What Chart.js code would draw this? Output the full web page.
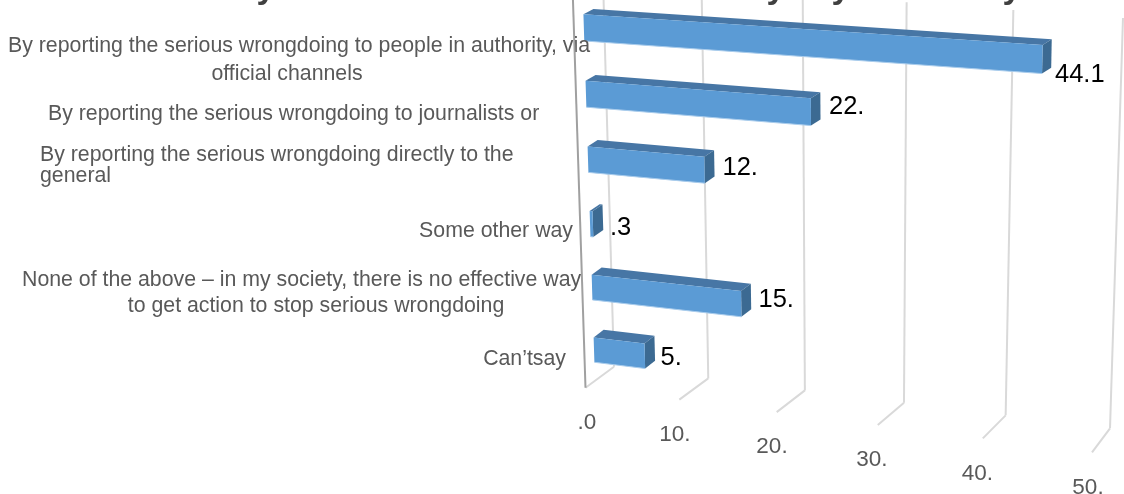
<!DOCTYPE html>
<html>
<head>
<meta charset="utf-8">
<title>Effective ways to stop serious wrongdoing</title>
<script src="https://cdn.jsdelivr.net/npm/chart.js@4/dist/chart.umd.js"></script>
<style>
  html, body { margin: 0; padding: 0; background: #fff; }
  canvas { display: block; }
</style>
</head>
<body>
<canvas id="chart" width="1124" height="494"></canvas>
<script>
const categories = [
  ['By reporting the serious wrongdoing to people in authority, via', 'official channels'],
  ['By reporting the serious wrongdoing to journalists or'],
  ['By reporting the serious wrongdoing directly to the', 'general'],
  ['Some other way'],
  ['None of the above – in my society, there is no effective way', 'to get action to stop serious wrongdoing'],
  ['Can’tsay']
];
const percentages = [44.1, 22.6, 12.0, 0.3, 15.5, 5.4];
// printed with the decimals cut off, as in the source document
const valueLabels = ['44.1', '22.', '12.', '.3', '15.', '5.'];
const tickLabels = ['.0', '10.', '20.', '30.', '40.', '50.'];

const FONT = '"Liberation Sans", Arial, sans-serif';
const GREY_TEXT = '#595959';

// corners of the box walls on screen: top-left, top-right, bottom-right, bottom-left
const FRONT_PLANE = [[572.5, -14], [1105, 12], [1092, 452.3], [585.5, 387.7]];
const BAR_FRONT = [[582.8, -6], [1110, 27.5], [1098, 444.4], [595, 380.8]];
const BAR_BACK = [[592.8, -11], [1119, 22], [1108, 436.4], [605, 372.8]];
const BACK_WALL = [[603, -20], [1123, 18], [1110, 428.3], [614, 366.7]];

// x, alignment and centre y of each category text line
const catLines = [
  [[8, 'left', 46], [287, 'center', 74]],
  [[48, 'left', 114]],
  [[40, 'left', 155], [40, 'left', 176]],
  [[573, 'right', 231]],
  [[22, 'left', 280], [316, 'center', 306]],
  [[566, 'right', 359]]
];
const valueLabelPos = [[1055, 74.5], [829, 106.5], [722.5, 168], [610, 228], [758.5, 300], [660.5, 357.5]];
const tickNudge = [1.5, -4.5, -4.7, -6, -5.5, -4];
const titleTails = [266, 776, 841, 1012];

// unit square to quad mapping
function quadMap(q) {
  const [[x0, y0], [x1, y1], [x2, y2], [x3, y3]] = q;
  const dx1 = x1 - x2, dx2 = x3 - x2, sx = x0 - x1 + x2 - x3;
  const dy1 = y1 - y2, dy2 = y3 - y2, sy = y0 - y1 + y2 - y3;
  const den = dx1 * dy2 - dx2 * dy1;
  const g = (sx * dy2 - dx2 * sy) / den;
  const h = (dx1 * sy - sx * dy1) / den;
  const a = x1 - x0 + g * x1, b = x3 - x0 + h * x3;
  const d = y1 - y0 + g * y1, e = y3 - y0 + h * y3;
  return (u, v) => {
    const w = g * u + h * v + 1;
    return [(a * u + b * v + x0) / w, (d * u + e * v + y0) / w];
  };
}

const frontMap = quadMap(FRONT_PLANE);
const barFrontMap = quadMap(BAR_FRONT);
const barBackMap = quadMap(BAR_BACK);
const wallMap = quadMap(BACK_WALL);

function poly(ctx, pts, fill) {
  ctx.beginPath();
  pts.forEach((p, i) => i ? ctx.lineTo(p[0], p[1]) : ctx.moveTo(p[0], p[1]));
  ctx.closePath();
  ctx.fillStyle = fill;
  ctx.fill();
}

function segment(ctx, a, b, color, width) {
  ctx.beginPath();
  ctx.moveTo(a[0], a[1]);
  ctx.lineTo(b[0], b[1]);
  ctx.strokeStyle = color;
  ctx.lineWidth = width;
  ctx.stroke();
}

// Bars keep their place from the scales and get drawn as boxes in perspective
Chart.BarElement.prototype.draw = function (ctx) {
  const area = Chart.getChart(ctx.canvas).chartArea;
  const { x, y, base, height } = this.getProps(['x', 'y', 'base', 'height']);
  const u0 = (base - area.left) / area.width, u1 = (x - area.left) / area.width;
  const s0 = (y - height / 2 - area.top) / area.height, s1 = (y + height / 2 - area.top) / area.height;

  const ftl = barFrontMap(u0, s0), ftr = barFrontMap(u1, s0), fbr = barFrontMap(u1, s1), fbl = barFrontMap(u0, s1);
  const btl = barBackMap(u0, s0), btr = barBackMap(u1, s0), bbr = barBackMap(u1, s1);

  ctx.save();
  poly(ctx, [ftl, btl, btr, ftr], '#4776A5');
  poly(ctx, [ftr, btr, bbr, fbr], '#3C6A92');
  poly(ctx, [ftl, ftr, fbr, fbl], '#5B9BD5');
  segment(ctx, fbl, fbr, '#A9CCEC', 1);
  ctx.restore();
};

const perspectiveFrame = {
  id: 'perspectiveFrame',
  beforeDatasetsDraw(chart) {
    const { ctx, chartArea: area, scales: { x } } = chart;
    ctx.save();
    x.ticks.forEach(t => {
      const u = (x.getPixelForValue(t.value) - area.left) / area.width;
      segment(ctx, wallMap(u, 0), wallMap(u, 1), '#D9D9D9', 2);
      segment(ctx, wallMap(u, 1), frontMap(u, 1), '#D9D9D9', 2);
    });
    ctx.restore();
  },
  afterDatasetsDraw(chart) {
    const { ctx, chartArea: area, scales: { x } } = chart;
    ctx.save();
    ctx.textBaseline = 'middle';

    // category text
    ctx.font = '21.3px ' + FONT;
    ctx.fillStyle = GREY_TEXT;
    categories.forEach((lines, i) => lines.forEach((line, j) => {
      const [lx, align, ly] = catLines[i][j];
      ctx.textAlign = align;
      ctx.fillText(line, lx, ly);
    }));

    // category axis runs over the text
    segment(ctx, frontMap(0, 0), frontMap(0, 1), '#A0A0A0', 2);

    // value axis numbers under the floor
    ctx.font = '22.5px ' + FONT;
    ctx.textAlign = 'center';
    ctx.fillStyle = GREY_TEXT;
    x.ticks.forEach((t, i) => {
      const foot = frontMap((x.getPixelForValue(t.value) - area.left) / area.width, 1);
      ctx.fillText(tickLabels[i], foot[0] + tickNudge[i], foot[1] + 35);
    });

    // numbers next to the bars
    ctx.font = '25.5px ' + FONT;
    ctx.textAlign = 'left';
    ctx.fillStyle = '#000';
    valueLabels.forEach((txt, i) => ctx.fillText(txt, valueLabelPos[i][0], valueLabelPos[i][1]));

    // heading sits above the canvas, only the y tails come through
    ctx.font = 'bold 34px ' + FONT;
    ctx.textAlign = 'center';
    ctx.textBaseline = 'alphabetic';
    ctx.fillStyle = '#404040';
    titleTails.forEach(tx => ctx.fillText('y', tx, -2));
    ctx.restore();
  }
};

new Chart(document.getElementById('chart'), {
  type: 'bar',
  data: {
    labels: categories,
    datasets: [{
      data: percentages,
      backgroundColor: '#5B9BD5',
      categoryPercentage: 1,
      barPercentage: 0.4
    }]
  },
  options: {
    indexAxis: 'y',
    responsive: false,
    animation: false,
    layout: { padding: 0 },
    plugins: { legend: { display: false }, tooltip: { enabled: false } },
    scales: {
      x: {
        min: 0,
        max: 50,
        ticks: { display: false, stepSize: 10 },
        grid: { display: false },
        border: { display: false }
      },
      y: {
        ticks: { display: false },
        grid: { display: false },
        border: { display: false }
      }
    }
  },
  plugins: [perspectiveFrame]
});
</script>
</body>
</html>
